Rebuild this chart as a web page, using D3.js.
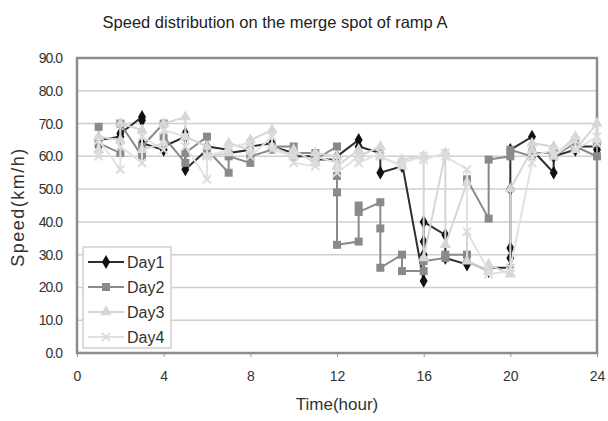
<!DOCTYPE html>
<html>
<head>
<meta charset="utf-8">
<script src="https://cdn.jsdelivr.net/npm/d3@7"></script>
<style>
  body { margin: 0; background: #fff; }
  svg { display: block; font-family: "Liberation Sans", Arial, sans-serif; }
</style>
</head>
<body>
<svg id="chart" width="608" height="421"></svg>
<script>
// readings per hour: several samples share the same hour
var day1 = [[1,63],[1,65],[2,66],[2,67],[3,72],[3,71],[3,64],[4,62],[4,63],[5,66],[5,67],[5,56],
  [6,62],[6,63],[7,62],[7,61],[8,62],[8,63],[9,64],[9,63],[10,61],[10,60],[11,60],[11,59],
  [12,59],[12,60],[13,65],[13,63],[14,61],[14,55],[15,57],[15,58],[16,22],[16,30],[16,34],[16,40],
  [17,36],[17,29],[18,27],[18,28],[19,25],[19,26],[20,26],[20,29],[20,32],[20,50],[20,62],
  [21,66],[21,62],[22,55],[22,60],[23,62],[23,63],[24,63],[24,62]];
var day2 = [[1,69],[1,64],[2,61],[2,70],[3,60],[3,63],[4,70],[4,66],[5,58],[5,61],[6,66],[6,62],
  [7,55],[7,60],[8,58],[8,60],[9,62],[9,63],[10,63],[10,61],[11,61],[11,59],
  [12,63],[12,54],[12,49],[12,33],[13,34],[13,45],[13,43],[14,46],[14,38],[14,26],
  [15,30],[15,25],[16,25],[16,28],[17,29],[17,30],[18,30],[18,53],[19,41],[19,59],
  [20,60],[20,62],[21,60],[21,61],[22,61],[22,60],[23,64],[23,63],[24,60],[24,64]];
var day3 = [[1,62],[1,66],[2,65],[2,70],[3,68],[3,62],[4,64],[4,70],[5,72],[5,66],[6,63],[6,60],
  [7,61],[7,64],[8,62],[8,65],[9,68],[9,63],[10,60],[10,62],[11,58],[11,61],[12,60],[12,57],
  [13,62],[13,60],[14,63],[14,60],[15,57],[15,59],[16,60],[16,29],[17,61],[17,33],
  [18,52],[18,28],[19,25],[19,27],[20,24],[20,50],[21,62],[21,64],[22,63],[22,60],
  [23,66],[23,62],[24,70],[24,65]];
var day4 = [[1,60],[1,65],[2,56],[2,63],[3,58],[3,66],[4,62],[4,68],[5,66],[5,63],[6,53],[6,60],
  [7,62],[7,63],[8,64],[8,60],[9,66],[9,62],[10,60],[10,58],[11,57],[11,60],[12,58],[12,55],
  [13,60],[13,58],[14,61],[14,60],[15,57],[15,58],[16,60],[16,59],[17,61],[17,60],
  [18,56],[18,37],[19,25],[19,24],[20,25],[20,26],[21,58],[21,60],[22,62],[22,60],
  [23,65],[23,62],[24,66],[24,64]];

var seriesNames = ["Day1", "Day2", "Day3", "Day4"];
var seriesData = [day1, day2, day3, day4];
var lineColors = ["#2e2e2e", "#8a8a8a", "#d6d6d6", "#e2e2e2"];
var markerColors = ["#111111", "#8a8a8a", "#d6d6d6", "#dcdcdc"];
var markerTypes = [d3.symbolDiamond, d3.symbolSquare, d3.symbolTriangle, d3.symbolX];
var xTicks = [0, 4, 8, 12, 16, 20, 24];
var yTicks = [0, 10, 20, 30, 40, 50, 60, 70, 80, 90];

var svg = d3.select("#chart");
var plotLeft = 77, plotRight = 597, plotTop = 58, plotBottom = 353;

var x = d3.scaleLinear().domain([0, 24]).range([plotLeft, plotRight]);
var y = d3.scaleLinear().domain([0, 90]).range([plotBottom, plotTop]);

svg.append("text")
    .attr("x", 275).attr("y", 28)
    .attr("text-anchor", "middle")
    .style("font-size", "16.5px").style("fill", "#222")
    .text("Speed distribution on the merge spot of ramp A");

// grid
svg.append("g").selectAll("line")
    .data(yTicks)
    .enter().append("line")
    .attr("x1", plotLeft).attr("x2", plotRight)
    .attr("y1", function (d) { return y(d); })
    .attr("y2", function (d) { return y(d); })
    .attr("stroke", "#cfcfcf").attr("stroke-width", 1.5);

var yAxis = svg.append("g")
    .attr("transform", "translate(" + plotLeft + ",0)")
    .call(d3.axisLeft(y).tickValues(yTicks).tickFormat(d3.format(".1f")).tickSize(0).tickPadding(15));
yAxis.select(".domain").remove();
yAxis.selectAll("text")
    .style("font-size", "14px").style("fill", "#333").style("letter-spacing", "-1px")
    .style("font-family", "'Liberation Sans Narrow', 'Liberation Sans', sans-serif");

var xAxis = svg.append("g")
    .attr("transform", "translate(0," + plotBottom + ")")
    .call(d3.axisBottom(x).tickValues(xTicks).tickSize(4).tickPadding(14));
xAxis.select(".domain").remove();
xAxis.selectAll("line").attr("stroke", "#999");
xAxis.selectAll("text").style("font-size", "14px").style("fill", "#333");

// plot border
svg.append("rect")
    .attr("x", plotLeft).attr("y", plotTop)
    .attr("width", plotRight - plotLeft).attr("height", plotBottom - plotTop)
    .attr("fill", "none").attr("stroke", "#8c8c8c").attr("stroke-width", 2.5);

var line = d3.line()
    .x(function (d) { return x(d[0]); })
    .y(function (d) { return y(d[1]); });

var markerSizes = [55, 64, 55, 45];

function drawMarker(sel, i) {
  sel.attr("d", d3.symbol().type(markerTypes[i]).size(markerSizes[i])());
  if (i === 3) {
    sel.attr("fill", "none").attr("stroke", markerColors[i]).attr("stroke-width", 2);
  } else {
    sel.attr("fill", markerColors[i]);
  }
}

seriesData.forEach(function (data, i) {
  var g = svg.append("g");
  g.append("path")
      .datum(data)
      .attr("d", line)
      .attr("fill", "none")
      .attr("stroke", lineColors[i])
      .attr("stroke-width", 2);
  g.selectAll("path.pt")
      .data(data)
      .enter().append("path")
      .attr("class", "pt")
      .attr("transform", function (d) {
        return "translate(" + x(d[0]) + "," + y(d[1]) + ")";
      })
      .call(drawMarker, i);
});

// legend
var legend = svg.append("g");
legend.append("rect")
    .attr("x", 83).attr("y", 247)
    .attr("width", 88).attr("height", 101)
    .attr("fill", "#fff").attr("stroke", "#d0d0d0").attr("stroke-width", 1.5);

seriesNames.forEach(function (name, i) {
  var ly = 262 + i * 25;
  legend.append("line")
      .attr("x1", 88).attr("x2", 124)
      .attr("y1", ly).attr("y2", ly)
      .attr("stroke", lineColors[i]).attr("stroke-width", 2);
  legend.append("path")
      .attr("transform", "translate(106," + ly + ")")
      .call(drawMarker, i);
  legend.append("text")
      .attr("x", 127).attr("y", ly + 6)
      .style("font-size", "16px").style("fill", "#333")
      .text(name);
});

svg.append("text")
    .attr("transform", "translate(24,207) rotate(-90)")
    .attr("text-anchor", "middle")
    .style("font-size", "18px").style("fill", "#333").style("letter-spacing", "1.5px")
    .text("Speed(km/h)");

svg.append("text")
    .attr("x", 337).attr("y", 410)
    .attr("text-anchor", "middle")
    .style("font-size", "17px").style("fill", "#333")
    .text("Time(hour)");
</script>
</body>
</html>
